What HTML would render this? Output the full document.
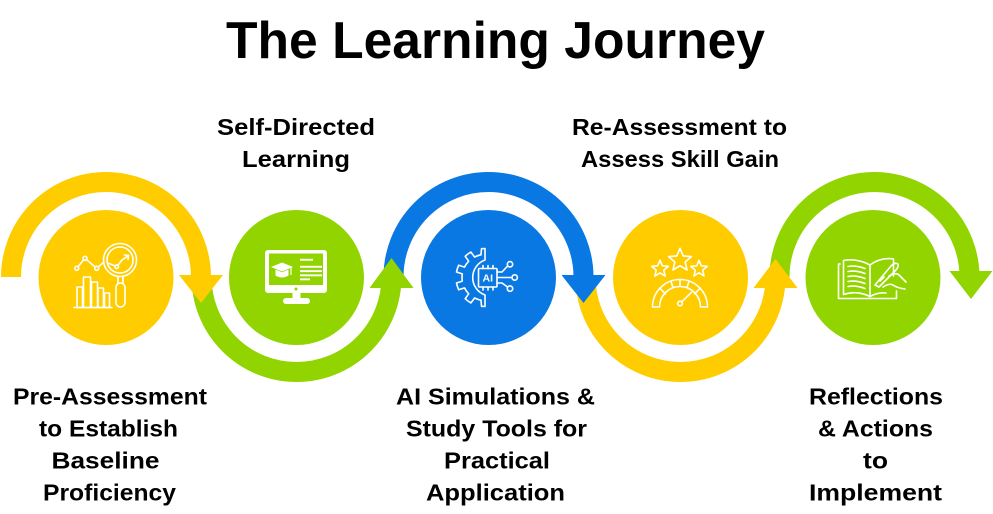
<!DOCTYPE html>
<html>
<head>
<meta charset="utf-8">
<style>
  html,body{margin:0;padding:0;background:#fff;}
  svg{display:block;}
  text{font-family:"Liberation Sans", Arial, sans-serif;font-weight:bold;fill:#000;}
</style>
</head>
<body>
<svg width="993" height="514" viewBox="0 0 993 514" xmlns="http://www.w3.org/2000/svg">
  <rect width="993" height="514" fill="#fff"/>

  <!-- Title -->
  <text x="495.5" y="58" font-size="52" text-anchor="middle" textLength="539" lengthAdjust="spacingAndGlyphs">The Learning Journey</text>

  <!-- Arc bodies -->
  <g fill="none" stroke-width="20">
    <path d="M11 277 A95 95 0 0 1 201 277" stroke="#FFCC00"/>
    <path d="M201.5 277 A95 95 0 0 0 391.5 277" stroke="#92D400"/>
    <path d="M393.5 277 A95 95 0 0 1 583.5 277" stroke="#0A78E2"/>
    <path d="M585.5 277 A95 95 0 0 0 775.5 277" stroke="#FFCC00"/>
    <path d="M779.5 277 A95 95 0 0 1 969.5 277" stroke="#92D400"/>
  </g>

  <!-- Arrowheads -->
  <polygon points="179,275 223,275 201,303" fill="#FFCC00"/>
  <polygon points="369.5,288 413.5,288 391.5,258" fill="#92D400"/>
  <polygon points="561.5,275 605.5,275 583.5,303" fill="#0A78E2"/>
  <polygon points="753.5,288 797.5,288 775.5,259" fill="#FFCC00"/>
  <polygon points="949.5,271 992.5,271 971,299" fill="#92D400"/>

  <!-- Circles -->
  <circle cx="106" cy="277.5" r="67.5" fill="#FFCC00"/>
  <circle cx="296.5" cy="277.5" r="67.5" fill="#92D400"/>
  <circle cx="488.5" cy="277.5" r="67.5" fill="#0A78E2"/>
  <circle cx="680.5" cy="277.5" r="67.5" fill="#FFCC00"/>
  <circle cx="873" cy="277.5" r="67.5" fill="#92D400"/>

  <!-- Icon 1: analytics + magnifier -->
  <g fill="none" stroke="#fff" stroke-width="1.6" stroke-linejoin="round" stroke-linecap="round">
    <polyline points="76.7,268.3 85,258.3 96.7,268.3 104,262"/>
    <circle cx="76.7" cy="268.3" r="2" fill="#FFCC00"/>
    <circle cx="85" cy="258.3" r="2" fill="#FFCC00"/>
    <circle cx="96.7" cy="268.3" r="2" fill="#FFCC00"/>
    <circle cx="120" cy="260" r="16.5"/>
    <circle cx="120" cy="260" r="13"/>
    <polyline points="108,263 116.7,266.7 122,260 128.5,255.5"/>
    <polyline points="124.5,255 128.5,255.5 128,259.5"/>
    <circle cx="116.7" cy="266.7" r="1.8" fill="#FFCC00"/>
    <line x1="118" y1="276.5" x2="118" y2="283"/>
    <line x1="123" y1="276.5" x2="123" y2="283"/>
    <rect x="116" y="283" width="9" height="24" rx="4.5"/>
    <rect x="77" y="287" width="5.5" height="20.5"/>
    <rect x="83.5" y="277" width="7" height="30.5"/>
    <rect x="91.5" y="282" width="6" height="25.5"/>
    <rect x="98" y="288" width="5.5" height="19.5"/>
    <rect x="104.5" y="293" width="5" height="14.5"/>
    <line x1="74" y1="307.5" x2="112" y2="307.5"/>
  </g>

  <!-- Icon 2: monitor with mortarboard -->
  <g>
    <rect x="265" y="250" width="62" height="43" rx="3" fill="#fff"/>
    <rect x="269" y="253.5" width="54" height="31.5" fill="#92D400"/>
    <circle cx="296" cy="289" r="1.5" fill="#92D400"/>
    <rect x="292.5" y="292.5" width="8" height="6.5" fill="#fff"/>
    <rect x="283" y="298" width="27" height="6" rx="3" fill="#fff"/>
    <polygon points="271,267 282,262.5 293,267 282,271.5" fill="#fff"/>
    <path d="M275.5,269.5 v6 q6.5,4 13,0 v-6 l-6.5,2.8 z" fill="#fff"/>
    <line x1="291" y1="267.5" x2="291" y2="275" stroke="#fff" stroke-width="1.2"/>
    <rect x="300" y="258.8" width="13" height="1.9" fill="#fff"/>
    <rect x="300" y="265.8" width="22" height="1.9" fill="#fff"/>
    <rect x="300" y="270.2" width="22" height="1.9" fill="#fff"/>
    <rect x="300" y="274.4" width="22" height="1.9" fill="#fff"/>
    <rect x="300" y="278.4" width="10" height="1.9" fill="#fff"/>
  </g>

  <!-- Icon 3: AI gear -->
  <g fill="none" stroke="#fff" stroke-width="1.6" stroke-linejoin="round" stroke-linecap="round">
    <g transform="translate(-2,0.5)">
      <path d="M487,259.5 L487,248 L483.5,248.2 L483.0,254.3 A23 23 0 0 0 476.6,256.5 L472.9,251.6 A29 29 0 0 0 467.2,255.8 L470.7,260.7 A23 23 0 0 0 466.5,266.6 L460.7,264.7 A29 29 0 0 0 458.5,271.5 L464.3,273.4 A23 23 0 0 0 464.3,280.6 L458.5,282.5 A29 29 0 0 0 460.7,289.3 L466.5,287.4 A23 23 0 0 0 470.7,293.3 L467.2,298.2 A29 29 0 0 0 472.9,302.4 L476.6,297.5 A23 23 0 0 0 483.0,299.7 L483.5,305.8 L487,306 L487,294.5 A18.6 18.6 0 0 1 487,259.5 Z"/>
    </g>
    <rect x="478.5" y="268.5" width="18.5" height="18.5" rx="1"/>
    <line x1="483" y1="268.5" x2="483" y2="265.5"/>
    <line x1="488" y1="268.5" x2="488" y2="265.5"/>
    <line x1="493" y1="268.5" x2="493" y2="265.5"/>
    <line x1="483" y1="287" x2="483" y2="290"/>
    <line x1="488" y1="287" x2="488" y2="290"/>
    <line x1="493" y1="287" x2="493" y2="290"/>
    <polyline points="497,272 502,272 507.5,266.2"/>
    <circle cx="510" cy="264.3" r="2.7"/>
    <line x1="497" y1="277.5" x2="512" y2="277.5"/>
    <circle cx="514.7" cy="277.5" r="2.7"/>
    <polyline points="497,283 502,283 507.5,287"/>
    <circle cx="510" cy="288.6" r="2.7"/>
  </g>
  <text x="487.8" y="281.6" font-size="10.5" text-anchor="middle" style="fill:#fff">AI</text>

  <!-- Icon 4: stars + gauge -->
  <g fill="none" stroke="#fff" stroke-width="1.6" stroke-linejoin="round" stroke-linecap="round">
    <polygon vector-effect="non-scaling-stroke" transform="translate(660,269) scale(8.8)" points="0,-1 0.2645,-0.364 0.9511,-0.309 0.428,0.139 0.5878,0.809 0,0.45 -0.5878,0.809 -0.428,0.139 -0.9511,-0.309 -0.2645,-0.364"/>
    <polygon vector-effect="non-scaling-stroke" transform="translate(680,260.3) scale(12)" points="0,-1 0.2645,-0.364 0.9511,-0.309 0.428,0.139 0.5878,0.809 0,0.45 -0.5878,0.809 -0.428,0.139 -0.9511,-0.309 -0.2645,-0.364"/>
    <polygon vector-effect="non-scaling-stroke" transform="translate(699,269) scale(8.6)" points="0,-1 0.2645,-0.364 0.9511,-0.309 0.428,0.139 0.5878,0.809 0,0.45 -0.5878,0.809 -0.428,0.139 -0.9511,-0.309 -0.2645,-0.364"/>
    <path d="M652.5,307 A27.5 27.5 0 0 1 707.5,307 L700.5,307 A20.5 20.5 0 0 0 659.5,307 Z"/>
    <line x1="660.5" y1="289" x2="665.5" y2="293.8"/>
    <line x1="671" y1="281.5" x2="673.2" y2="287.8"/>
    <line x1="680" y1="279.5" x2="680" y2="286.5"/>
    <line x1="689" y1="281.5" x2="686.8" y2="287.8"/>
    <line x1="699.5" y1="289" x2="694.5" y2="293.8"/>
    <circle cx="680" cy="303.5" r="2.3"/>
    <line x1="681.8" y1="301.8" x2="691.5" y2="292.3"/>
  </g>

  <!-- Icon 5: book + writing hand -->
  <g fill="none" stroke="#fff" stroke-width="1.6" stroke-linejoin="round" stroke-linecap="round">
    <path d="M840,264 L838.5,264 L838.5,298.5 L896.5,298.5 L896.5,291"/>
    <path d="M843.5,260.5 Q857,258 870,265 L870,296.5 Q857,290 843.5,294.5 Z"/>
    <path d="M870,265 Q881,257 893.5,259 L893.5,276"/>
    <path d="M870,296.5 Q878,292 886,293"/>
    <path d="M848,266.5 Q856,265 865,268.5"/>
    <path d="M848,271.5 Q856,270 865,273.5"/>
    <path d="M848,276.5 Q856,275 865,278.5"/>
    <path d="M848,281.5 Q856,280 865,283.5"/>
    <path d="M848,286.5 Q856,285 865,288.5"/>
    <path d="M875,285 L891,266 Q895,262 898,264 Q899,267 895,271 L879,287 Z"/>
    <line x1="880" y1="281" x2="884" y2="277"/>
    <path d="M889,276 Q896,272 899,275 L906,282"/>
    <path d="M883,287 Q889,283 893,285 Q897,288 905,289"/>
  </g>

  <!-- Top labels -->
  <g font-size="23.5" text-anchor="middle">
    <text x="296" y="135" textLength="158" lengthAdjust="spacingAndGlyphs">Self-Directed</text>
    <text x="296" y="167" textLength="108" lengthAdjust="spacingAndGlyphs">Learning</text>
    <text x="679.5" y="135" textLength="215" lengthAdjust="spacingAndGlyphs">Re-Assessment to</text>
    <text x="680" y="167" textLength="198" lengthAdjust="spacingAndGlyphs">Assess Skill Gain</text>
  </g>

  <!-- Bottom labels -->
  <g font-size="23.5" text-anchor="middle">
    <text x="110" y="404.5" textLength="194" lengthAdjust="spacingAndGlyphs">Pre-Assessment</text>
    <text x="108.5" y="436.5" textLength="139" lengthAdjust="spacingAndGlyphs">to Establish</text>
    <text x="105.5" y="468.5" textLength="108" lengthAdjust="spacingAndGlyphs">Baseline</text>
    <text x="109.5" y="500.5" textLength="133" lengthAdjust="spacingAndGlyphs">Proficiency</text>

    <text x="495.5" y="404.5" textLength="199" lengthAdjust="spacingAndGlyphs">AI Simulations &amp;</text>
    <text x="496.5" y="436.5" textLength="181" lengthAdjust="spacingAndGlyphs">Study Tools for</text>
    <text x="497" y="468.5" textLength="106" lengthAdjust="spacingAndGlyphs">Practical</text>
    <text x="495.5" y="500.5" textLength="139" lengthAdjust="spacingAndGlyphs">Application</text>

    <text x="876" y="404.5" textLength="134" lengthAdjust="spacingAndGlyphs">Reflections</text>
    <text x="875.5" y="436.5" textLength="115" lengthAdjust="spacingAndGlyphs">&amp; Actions</text>
    <text x="875.5" y="468.5" textLength="25" lengthAdjust="spacingAndGlyphs">to</text>
    <text x="875.5" y="500.5" textLength="133" lengthAdjust="spacingAndGlyphs">Implement</text>
  </g>
</svg>
</body>
</html>
